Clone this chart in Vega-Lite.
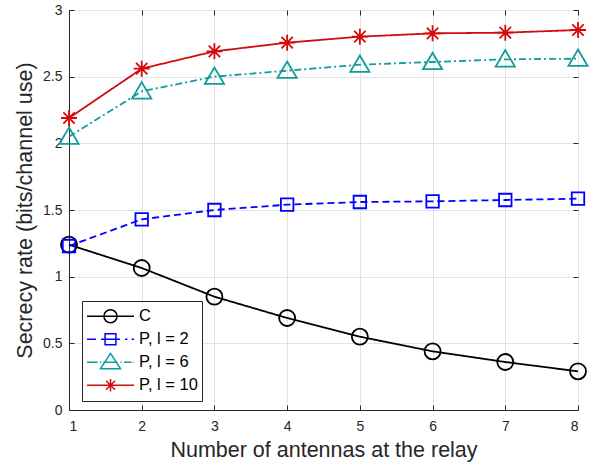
{
  "$schema": "https://vega.github.io/schema/vega-lite/v6.json",
  "width": 509,
  "height": 400,
  "autosize": {"type": "none"},
  "padding": {"left": 69, "top": 10, "right": 16, "bottom": 60},
  "background": "white",
  "data": {"values": [
    {"x": 1, "series": "C", "y": 1.24},
    {"x": 2, "series": "C", "y": 1.065},
    {"x": 3, "series": "C", "y": 0.85},
    {"x": 4, "series": "C", "y": 0.69},
    {"x": 5, "series": "C", "y": 0.55},
    {"x": 6, "series": "C", "y": 0.44},
    {"x": 7, "series": "C", "y": 0.36},
    {"x": 8, "series": "C", "y": 0.29},
    {"x": 1, "series": "P, l = 2", "y": 1.23},
    {"x": 2, "series": "P, l = 2", "y": 1.43},
    {"x": 3, "series": "P, l = 2", "y": 1.50},
    {"x": 4, "series": "P, l = 2", "y": 1.54},
    {"x": 5, "series": "P, l = 2", "y": 1.56},
    {"x": 6, "series": "P, l = 2", "y": 1.565},
    {"x": 7, "series": "P, l = 2", "y": 1.575},
    {"x": 8, "series": "P, l = 2", "y": 1.585},
    {"x": 1, "series": "P, l = 6", "y": 2.05},
    {"x": 2, "series": "P, l = 6", "y": 2.39},
    {"x": 3, "series": "P, l = 6", "y": 2.50},
    {"x": 4, "series": "P, l = 6", "y": 2.545},
    {"x": 5, "series": "P, l = 6", "y": 2.59},
    {"x": 6, "series": "P, l = 6", "y": 2.61},
    {"x": 7, "series": "P, l = 6", "y": 2.63},
    {"x": 8, "series": "P, l = 6", "y": 2.635},
    {"x": 1, "series": "P, l = 10", "y": 2.19},
    {"x": 2, "series": "P, l = 10", "y": 2.56},
    {"x": 3, "series": "P, l = 10", "y": 2.69},
    {"x": 4, "series": "P, l = 10", "y": 2.755},
    {"x": 5, "series": "P, l = 10", "y": 2.80},
    {"x": 6, "series": "P, l = 10", "y": 2.825},
    {"x": 7, "series": "P, l = 10", "y": 2.83},
    {"x": 8, "series": "P, l = 10", "y": 2.85}
  ]},
  "layer": [
    {
      "mark": {"type": "line", "strokeWidth": 1.8},
      "encoding": {
        "x": {"field": "x", "type": "quantitative", "scale": {"domain": [1, 8], "nice": false},
          "axis": {"values": [1,2,3,4,5,6,7,8], "title": "Number of antennas at the relay", "titlePadding": 6, "labelPadding": 14}},
        "y": {"field": "y", "type": "quantitative", "scale": {"domain": [0, 3], "nice": false},
          "axis": {"values": [0,0.5,1,1.5,2,2.5,3], "format": "~g", "title": "Secrecy rate (bits/channel use)", "titlePadding": 6, "labelPadding": 12}},
        "color": {"field": "series", "type": "nominal", "legend": null,
          "scale": {"domain": ["C", "P, l = 2", "P, l = 6", "P, l = 10"], "range": ["#000000", "#0000FF", "#129C9C", "#D40A0A"]}},
        "strokeDash": {"field": "series", "type": "nominal", "legend": null,
          "scale": {"domain": ["C", "P, l = 2", "P, l = 6", "P, l = 10"], "range": [[1, 0], [7, 4], [7, 3, 2, 3], [1, 0]]}}
      }
    },
    {
      "mark": {"type": "point", "filled": false, "size": 256, "strokeWidth": 1.8, "opacity": 1},
      "encoding": {
        "x": {"field": "x", "type": "quantitative",
          "axis": {"orient": "top", "values": [1,2,3,4,5,6,7,8], "labels": false, "title": null, "grid": false, "domain": false}},
        "y": {"field": "y", "type": "quantitative",
          "axis": {"orient": "right", "values": [0,0.5,1,1.5,2,2.5,3], "labels": false, "title": null, "grid": false, "domain": false}},
        "color": {"field": "series", "type": "nominal", "legend": null,
          "scale": {"domain": ["C", "P, l = 2", "P, l = 6", "P, l = 10"], "range": ["#000000", "#0000FF", "#129C9C", "#D40A0A"]}},
        "shape": {"field": "series", "type": "nominal", "legend": null,
          "scale": {"domain": ["C", "P, l = 2", "P, l = 6", "P, l = 10"], "range": [
            "M-1,0A1,1 0 1,0 1,0A1,1 0 1,0 -1,0",
            "M-0.78,-0.78L0.78,-0.78L0.78,0.78L-0.78,0.78Z",
            "M0,-1.15L1.2,0.9L-1.2,0.9Z",
            "M0,-1L0,1M-1,0L1,0M-0.71,-0.71L0.71,0.71M-0.71,0.71L0.71,-0.71"
          ]}}
      }
    },
    {
      "mark": {"type": "point", "filled": false, "opacity": 0, "size": 2209, "strokeWidth": 1.5},
      "encoding": {
        "x": {"field": "x", "type": "quantitative", "axis": null},
        "y": {"field": "y", "type": "quantitative", "axis": null},
        "color": {"field": "series", "type": "nominal",
          "scale": {"domain": ["C", "P, l = 2", "P, l = 6", "P, l = 10"], "range": ["#000000", "#0000FF", "#129C9C", "#D40A0A"]},
          "legend": {"title": null, "orient": "none", "legendX": 13, "legendY": 291}},
        "shape": {"field": "series", "type": "nominal",
          "scale": {"domain": ["C", "P, l = 2", "P, l = 6", "P, l = 10"], "range": [
            "M-1,0L1,0M-0.28,0A0.28,0.28 0 1,0 0.28,0A0.28,0.28 0 1,0 -0.28,0",
            "M-1,0L-0.62,0M-0.4,0L0.4,0M0.62,0L0.72,0M0.9,0L1,0M-0.23,-0.23L0.23,-0.23L0.23,0.23L-0.23,0.23Z",
            "M-1,0L-0.55,0M-0.45,0L-0.4,0M-0.3,0L0.3,0M0.42,0L0.47,0M0.58,0L0.9,0M0.97,0L1,0M0,-0.38L0.43,0.28L-0.43,0.28Z",
            "M-1,0L1,0M0,-0.27L0,0.27M-0.27,0L0.27,0M-0.19,-0.19L0.19,0.19M-0.19,0.19L0.19,-0.19"
          ]},
          "legend": {"title": null, "orient": "none", "legendX": 13, "legendY": 291,
            "symbolSize": 2209, "symbolStrokeWidth": 1.5, "labelFontSize": 16.5, "labelOffset": 4,
            "strokeColor": "#262626", "fillColor": "white", "padding": 4, "rowPadding": 0, "clipHeight": 22.5, "labelColor": "#000000",
            "encode": {"symbols": {"update": {"opacity": {"value": 1}, "fill": {"value": "transparent"}}}}}}
      }
    }
  ],
  "resolve": {"scale": {"shape": "independent", "color": "independent"}, "axis": {"x": "independent", "y": "independent"}},
  "config": {
    "font": "Liberation Sans",
    "view": {"stroke": "#262626", "strokeWidth": 1},
    "axis": {"domainColor": "#262626", "tickColor": "#262626", "labelColor": "#262626", "titleColor": "#262626",
      "gridColor": "#E3E3E3", "labelFontSize": 14, "titleFontSize": 21.5, "titleFontWeight": "normal", "tickSize": -5, "labelFont": "Liberation Sans", "titleFont": "Liberation Sans"}
  }
}
